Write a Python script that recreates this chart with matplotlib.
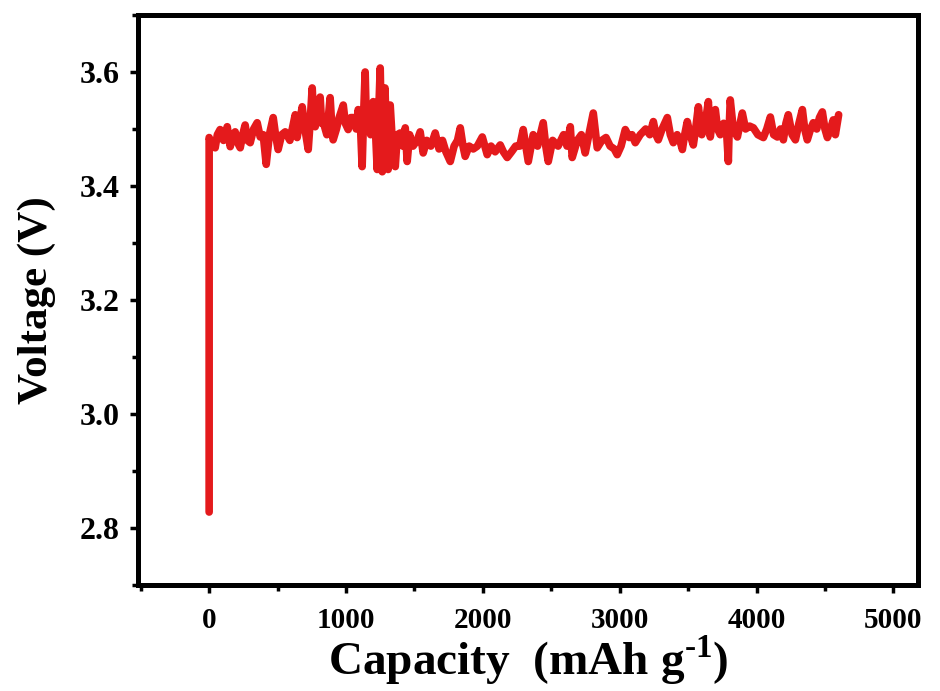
import numpy as np
import matplotlib.pyplot as plt
from matplotlib.ticker import MultipleLocator

# capacity (mAh/g) and voltage (V), 10 per row
capacity = [0, 0, 20, 44, 60, 80, 105, 132, 154, 175,
            190, 210, 227, 245, 263, 280, 300, 325, 351, 373,
            395, 417, 440, 468, 485, 504, 530, 556, 590, 629,
            643, 660, 680, 700, 724, 740, 753, 765, 775, 790,
            811, 822, 833, 860, 884, 895, 906, 930, 950, 980,
            995, 1016, 1035, 1053, 1075, 1089, 1105, 1118, 1128, 1140,
            1150, 1162, 1180, 1199, 1215, 1228, 1238, 1250, 1258, 1265,
            1275, 1285, 1295, 1308, 1323, 1338, 1360, 1375, 1396, 1415,
            1433, 1447, 1465, 1490, 1520, 1542, 1564, 1590, 1620, 1652,
            1680, 1705, 1730, 1762, 1790, 1815, 1835, 1855, 1871, 1900,
            1930, 1960, 1996, 2032, 2060, 2090, 2127, 2150, 2178, 2210,
            2240, 2270, 2295, 2332, 2368, 2400, 2441, 2460, 2478, 2510,
            2550, 2590, 2615, 2639, 2653, 2690, 2720, 2748, 2775, 2807,
            2836, 2870, 2900, 2930, 2960, 2982, 3010, 3041, 3070, 3090,
            3114, 3150, 3190, 3220, 3246, 3265, 3282, 3310, 3348, 3370,
            3392, 3420, 3440, 3458, 3475, 3494, 3515, 3538, 3555, 3575,
            3600, 3625, 3648, 3662, 3680, 3699, 3715, 3735, 3760, 3780,
            3794, 3800, 3808, 3830, 3860, 3880, 3896, 3920, 3950, 3977,
            4010, 4050, 4075, 4101, 4125, 4152, 4175, 4196, 4215, 4232,
            4260, 4284, 4310, 4335, 4352, 4371, 4395, 4415, 4440, 4460,
            4481, 4500, 4518, 4540, 4561, 4576, 4600]
voltage = [2.828, 3.485, 3.47, 3.467, 3.49, 3.499, 3.48, 3.504, 3.469, 3.49,
           3.495, 3.475, 3.467, 3.49, 3.507, 3.48, 3.476, 3.50, 3.511, 3.486,
           3.49, 3.438, 3.49, 3.520, 3.49, 3.464, 3.49, 3.495, 3.48, 3.525,
           3.485, 3.51, 3.539, 3.50, 3.464, 3.52, 3.572, 3.51, 3.504, 3.53,
           3.556, 3.51, 3.513, 3.49, 3.555, 3.51, 3.481, 3.50, 3.52, 3.542,
           3.51, 3.499, 3.52, 3.520, 3.50, 3.534, 3.51, 3.434, 3.52, 3.600,
           3.50, 3.521, 3.49, 3.548, 3.50, 3.429, 3.52, 3.607, 3.50, 3.425,
           3.55, 3.572, 3.48, 3.429, 3.542, 3.48, 3.434, 3.49, 3.493, 3.47,
           3.502, 3.443, 3.49, 3.47, 3.48, 3.495, 3.458, 3.48, 3.47, 3.493,
           3.465, 3.48, 3.46, 3.443, 3.47, 3.48, 3.502, 3.47, 3.452, 3.47,
           3.465, 3.47, 3.486, 3.455, 3.47, 3.46, 3.472, 3.46, 3.450, 3.46,
           3.47, 3.47, 3.499, 3.443, 3.49, 3.47, 3.511, 3.47, 3.443, 3.48,
           3.47, 3.49, 3.47, 3.504, 3.450, 3.48, 3.49, 3.458, 3.49, 3.528,
           3.467, 3.48, 3.485, 3.47, 3.465, 3.455, 3.47, 3.499, 3.485, 3.49,
           3.476, 3.49, 3.50, 3.49, 3.513, 3.49, 3.481, 3.50, 3.520, 3.49,
           3.476, 3.49, 3.48, 3.464, 3.49, 3.513, 3.49, 3.472, 3.50, 3.539,
           3.49, 3.51, 3.548, 3.486, 3.52, 3.534, 3.50, 3.490, 3.51, 3.50,
           3.443, 3.50, 3.551, 3.50, 3.486, 3.51, 3.528, 3.50, 3.505, 3.502,
           3.49, 3.485, 3.50, 3.521, 3.49, 3.486, 3.50, 3.481, 3.51, 3.525,
           3.49, 3.481, 3.51, 3.534, 3.50, 3.481, 3.50, 3.511, 3.50, 3.52,
           3.530, 3.50, 3.485, 3.50, 3.516, 3.490, 3.525]
xticks = [0, 1000, 2000, 3000, 4000, 5000]
yticks = [2.8, 3.0, 3.2, 3.4, 3.6]

plt.rcParams['font.family'] = 'Liberation Serif'
plt.rcParams['font.weight'] = 'bold'
plt.rcParams['mathtext.fontset'] = 'custom'
plt.rcParams['mathtext.rm'] = 'Liberation Serif:bold'
plt.rcParams['mathtext.bf'] = 'Liberation Serif:bold'

fig = plt.figure(figsize=(9.4, 6.91), dpi=100)
ax = fig.add_axes([0.1468, 0.1534, 0.8298, 0.8249])
ax.plot(capacity, voltage, color='#e41a1c', lw=5.5, solid_joinstyle='round',
        solid_capstyle='round')

ax.set_xlim(-520, 5180)
ax.set_ylim(2.7, 3.7)
ax.xaxis.set_minor_locator(MultipleLocator(500))
ax.yaxis.set_minor_locator(MultipleLocator(0.1))
ax.set_xticks(xticks)
ax.set_yticks(yticks)
ax.set_yticklabels(['%.1f' % v for v in yticks])

for s in ax.spines.values():
    s.set_linewidth(3.6)
ax.tick_params(which='major', direction='out', length=6, width=2.5, pad=7)
ax.tick_params(which='minor', direction='out', length=4, width=2.5)
ax.tick_params(axis='x', labelsize=21, pad=10)
ax.tick_params(axis='y', labelsize=23)

ax.set_xlabel(r'Capacity  (mAh g$^{\text{-1}}$)', fontsize=34, fontweight='bold', labelpad=-1)
ax.set_ylabel('Voltage (V)', fontsize=31, fontweight='bold', labelpad=17)

plt.savefig('out.png', dpi=100)
